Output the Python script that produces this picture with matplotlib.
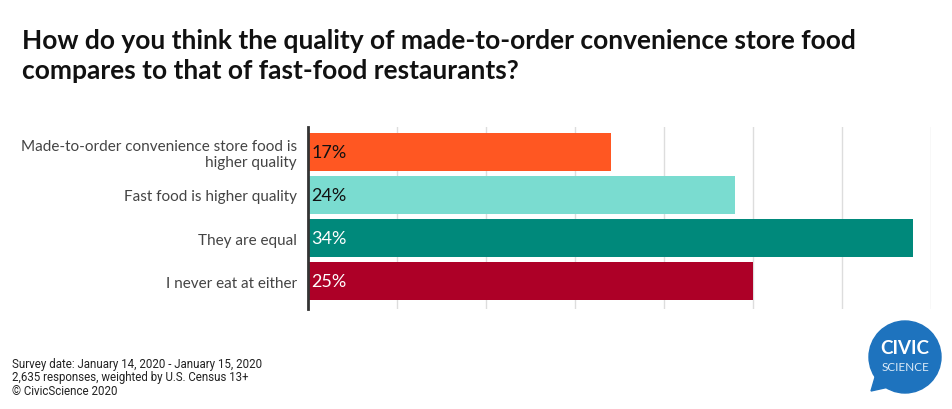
import matplotlib
matplotlib.use("Agg")
from matplotlib import pyplot as plt
from matplotlib.patches import Ellipse, Polygon

categories = [
    "Made-to-order convenience store food is\nhigher quality",
    "Fast food is higher quality",
    "They are equal",
    "I never eat at either",
]
values = [17, 24, 34, 25]
bar_colors = ["#FF5722", "#7ADCD0", "#00897B", "#AD0027"]
label_colors = ["#111111", "#111111", "#FFFFFF", "#FFFFFF"]

title = ("How do you think the quality of made-to-order convenience store food\n"
         "compares to that of fast-food restaurants?")
footer = ("Survey date: January 14, 2020 - January 15, 2020\n"
          "2,635 responses, weighted by U.S. Census 13+\n"
          "\u00a9 CivicScience 2020")

plt.rcParams['font.family'] = ['Lato', 'DejaVu Sans']

W, H = 952, 410
fig = plt.figure(figsize=(W / 100, H / 100), dpi=100)
ax = fig.add_axes([308 / W, 100 / H, 623 / W, 182 / H])

ypos = list(range(len(categories)))
ax.barh(ypos, values, height=0.88, color=bar_colors, zorder=2)

for y, v, c in zip(ypos, values, label_colors):
    ax.text(0.2, y, f"{v}%", va='center', ha='left', fontsize=13, color=c, zorder=3)

ax.set_xlim(0, 35)
ax.set_ylim(3.65, -0.58)
ax.set_xticks(range(5, 36, 5))
ax.set_xticklabels([])
ax.tick_params(axis='x', length=0)
ax.grid(axis='x', color='#DDDDDD', linewidth=1, zorder=0)
ax.set_yticks(ypos)
ax.set_yticklabels(categories, fontsize=11, color='#444444', linespacing=1.1)
ax.tick_params(axis='y', length=0, pad=8)
for s in ['top', 'right', 'bottom']:
    ax.spines[s].set_visible(False)
ax.spines['left'].set_color('#333333')
ax.spines['left'].set_linewidth(2)

fig.text(22 / W, 1 - 29 / H, title, fontsize=19, fontweight='bold',
         color='#111111', va='top', ha='left', linespacing=1.3)

fig.text(12 / W, 12 / H, footer, fontsize=8.3, color='#222222',
         va='bottom', ha='left', linespacing=1.05,
         family=['Liberation Sans Narrow', 'Roboto', 'DejaVu Sans'])

# logo: speech bubble
logo_color = '#1E73BE'
cx, cy, r = 905, 52, 36
fig.patches.append(Ellipse((cx / W, cy / H), 2 * r / W, 2 * r / H,
                           transform=fig.transFigure, color=logo_color, zorder=5))
fig.patches.append(Polygon([(871 / W, 18 / H), (878 / W, 42 / H),
                            (898 / W, 24 / H)], closed=True,
                           transform=fig.transFigure, color=logo_color, zorder=5))
fig.text(cx / W, 61 / H, "CIVIC", fontsize=13.5, fontweight='bold', color='white',
         ha='center', va='center', zorder=6)
fig.text(cx / W, 42 / H, "SCIENCE", fontsize=8.5, color='#DDEBF7',
         ha='center', va='center', zorder=6)

fig.savefig("out.png", dpi=100)
